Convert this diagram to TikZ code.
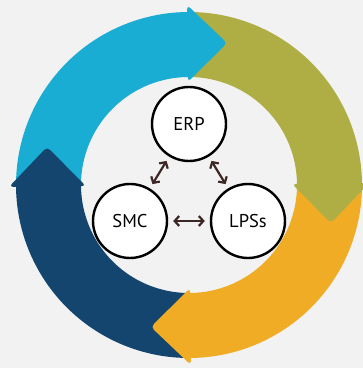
\documentclass[tikz,border=0pt]{standalone}
\usepackage{fontspec}
\setmainfont{PT Sans}
\usetikzlibrary{positioning}
\usetikzlibrary{arrows.meta}
\definecolor{ringblue}{HTML}{1AADD3}
\definecolor{ringolive}{HTML}{AFAE44}
\definecolor{ringamber}{HTML}{EFAC24}
\definecolor{ringnavy}{HTML}{13456E}
\definecolor{linkbrown}{HTML}{3B2723}
\definecolor{backgray}{HTML}{F2F2F2}

\begin{document}
\begin{tikzpicture}[
  x=1pt, y=1pt,
  hub/.style={draw, circle, line width=2.4pt, fill=white, minimum size=74pt, inner sep=0pt, font=\fontsize{18.5}{22}\selectfont},
  link/.style={{Straight Barb[length=4.5pt,width=10pt]}-{Straight Barb[length=4.5pt,width=10pt]}, line width=2.2pt, draw=linkbrown, shorten <=5pt, shorten >=5pt},
  tip/.style={rounded corners=4pt}
]
\fill[backgray] (0,0) rectangle (363,368);
\useasboundingbox (0,0) rectangle (363,368);

% ring of four arrows
\begin{scope}[shift={(189,183)}]
\foreach \col/\base in {ringblue/90, ringolive/0, ringamber/-90, ringnavy/180} {
  \fill[\col] ({\base+90}:173) arc[start angle={\base+90}, end angle={\base-1}, radius=173]
    -- ({\base-1}:108) arc[start angle={\base-1}, end angle={\base+90}, radius=108] -- cycle;
}
\foreach \col/\base in {ringblue/90, ringolive/0, ringamber/-90, ringnavy/180} {
  \fill[\col, tip] ({\base+0.6}:103) -- ({\base+0.6}:180) -- ({\base-15}:147) -- cycle;
}
\end{scope}

\node[hub] (erp) at (189,244) {ERP};
\node[hub, on grid, below left=97pt and 59pt of erp] (smc) {SMC};
\node[hub, on grid, right=118pt of smc] (lpss) {LPSs};

\draw[link] (erp) -- (smc);
\draw[link] (erp) -- (lpss);
\draw[link] (smc) -- (lpss);

\end{tikzpicture}
\end{document}
